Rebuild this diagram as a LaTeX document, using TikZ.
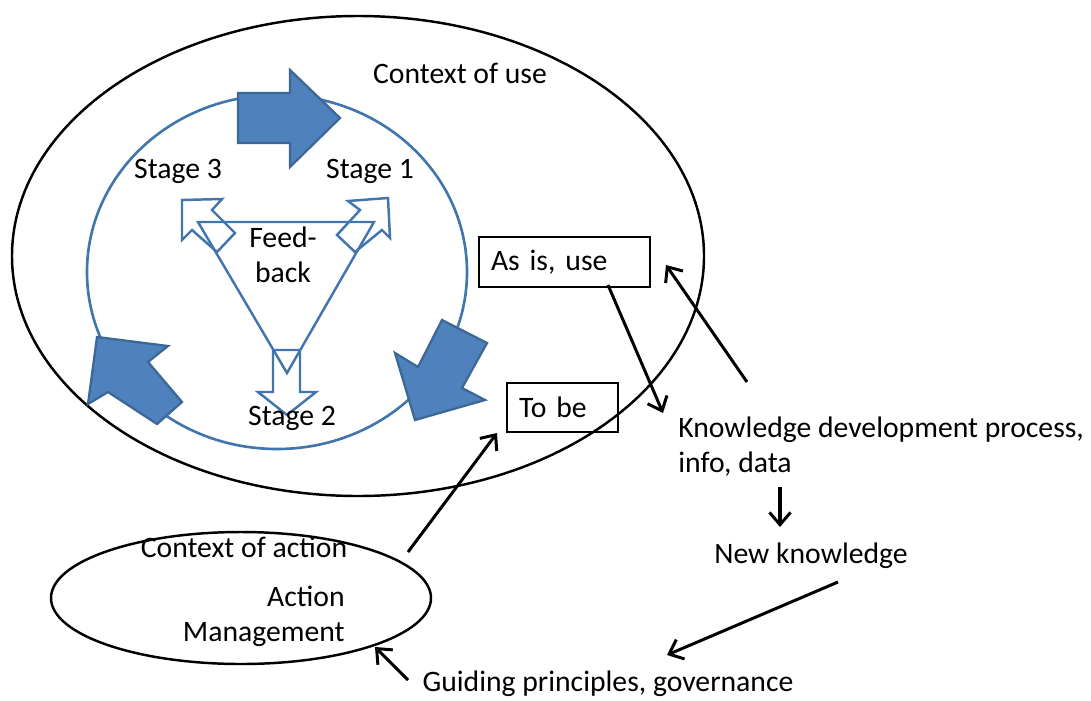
\documentclass[tikz,border=0pt]{standalone}
\usepackage{fontspec}
\setmainfont{Carlito}
\usetikzlibrary{arrows.meta}
\definecolor{bfill}{HTML}{4F81BD}
\definecolor{bline}{HTML}{3C6896}
\definecolor{cline}{HTML}{4275AD}
\begin{document}
\begin{tikzpicture}[x=0.02cm,y=-0.02cm,
  txt/.style={inner sep=0pt, font=\fontsize{16.9}{20}\selectfont},
  boxst/.style={draw=black, line width=1.2pt, anchor=north west, inner xsep=6.8pt, inner ysep=0pt, align=left, font=\fontsize{16.9}{20}\selectfont},
  bigell/.style={draw=black, line width=1.4pt},
  bluecirc/.style={draw=cline, line width=1.5pt},
  blockarrow/.style={fill=bfill, draw=bline, line width=1.3pt, line join=miter},
  hollow/.style={draw=cline, line width=1.4pt, line join=miter},
  conn/.style={draw=black, line width=1.7pt, -{Straight Barb[length=7pt,width=12pt,line width=1.7pt]}}
]
\useasboundingbox (0,0) rectangle (1091,700);

% big ellipse and blue circle
\draw[bigell] (358,256) ellipse [x radius=346, y radius=240];
\draw[bluecirc] (277,272) ellipse [x radius=190, y radius=177];

% small ellipse
\draw[bigell] (241,598) ellipse [x radius=190, y radius=66];

% block arrows
\draw[blockarrow] (238,93) -- (290,93) -- (290,70) -- (340,118) -- (290,167) -- (290,143) -- (238,143) -- cycle;
\draw[blockarrow] (442,320) -- (487,343) -- (462,388) -- (485,400) -- (415,420) -- (395,353) -- (418,367) -- cycle;
\draw[blockarrow] (97,337) -- (168,346) -- (148,362) -- (182,402) -- (157,424) -- (108,392) -- (88,404) -- cycle;

% feedback triangle and hollow arrows
\draw[hollow] (198,222) -- (374,222) -- (287,373) -- cycle;
\draw[hollow] (273,350) -- (300,350) -- (300,392) -- (316,392) -- (287,415) -- (258,392) -- (273,392) -- cycle;
\draw[hollow] (182,200) -- (222,199) -- (212,210) -- (235,233) -- (217,252) -- (192,230) -- (182,240) -- cycle;
\draw[hollow] (388,198) -- (348,201) -- (360,210) -- (337,235) -- (355,252) -- (382,230) -- (390,238) -- cycle;

% texts
\node[txt] (ctxuse) at (460,73) {Context of use};
\node[txt] (s3) at (178,171) {Stage 3};
\node[txt] (s1) at (370,171) {Stage 1};
\node[txt, align=center] (fb) at (283,255) {Feed-\\back};
\node[txt] (s2) at (292,418) {Stage 2};
\node[boxst, minimum width=97.5pt, minimum height=28.3pt, text width=83.9pt] (asis) at (478,236) {As is, use};
\node[boxst, minimum width=62.9pt, minimum height=27.8pt, text width=49.3pt] (tobe) at (506,382) {To be};
\node[txt, anchor=west, align=left] (kdp) at (678,447) {Knowledge development process,\\info, data};
\node[txt] (newk) at (811,556) {New knowledge};
\node[txt] (ctxact) at (244,547) {Context of action};
\node[txt, anchor=east, align=right] (am) at (345,616) {Action\\Management};
\node[txt] (guide) at (608,684) {Guiding principles, governance};

% connectors
\coordinate (a1s) at (608,285);
\coordinate (a1e) at (663,413);
\coordinate (a2s) at (747,382);
\coordinate (a2e) at (666,265);
\coordinate (a3s) at (408,552);
\coordinate (a3e) at (497,433);
\coordinate (a4s) at (780,487);
\coordinate (a4e) at (780,527);
\coordinate (a5s) at (838,582);
\coordinate (a5e) at (667,655);
\coordinate (a6s) at (408,680);
\coordinate (a6e) at (375,647);
\draw[conn] (a1s) -- (a1e);
\draw[conn] (a2s) -- (a2e);
\draw[conn] (a3s) -- (a3e);
\draw[conn, line width=2pt] (a4s) -- (a4e);
\draw[conn] (a5s) -- (a5e);
\draw[conn] (a6s) -- (a6e);
\end{tikzpicture}
\end{document}
